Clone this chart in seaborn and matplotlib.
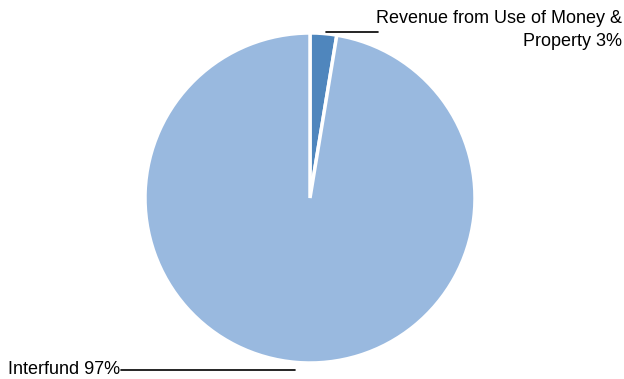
import matplotlib
matplotlib.use('Agg')
import matplotlib.pyplot as plt
import seaborn as sns

# data
categories = ['Revenue from Use of Money &\nProperty', 'Interfund']
values = [2.6, 97.4]
pct_labels = ['3%', '97%']
colors = ['#4f86bd', '#99b9df']

sns.set_theme(style='white')
plt.rcParams['font.family'] = ['Liberation Sans', 'DejaVu Sans']

fig = plt.figure(figsize=(6.24, 3.79), dpi=100)
ax = fig.add_axes([0, 0, 1, 1])

wedges, _ = ax.pie(values, colors=colors, startangle=90, counterclock=False,
                   center=(310, 181), radius=165, explode=[0.035, 0],
                   wedgeprops={'edgecolor': 'white', 'linewidth': 2.5})

# pie resets the limits, so set them afterwards
ax.set_xlim(0, 624)
ax.set_ylim(0, 379)
ax.set_aspect('equal')
ax.axis('off')

# leader lines + labels
ax.plot([326, 378], [347, 347], color='black', lw=1.2)
ax.text(622, 369, categories[0] + ' ' + pct_labels[0], ha='right', va='top',
        fontsize=13, linespacing=1.45, color='black')
ax.plot([121, 295], [9, 9], color='black', lw=1.2)
ax.text(8, 10, categories[1] + ' ' + pct_labels[1], ha='left', va='center',
        fontsize=13, color='black')

fig.savefig('out.png', dpi=100)
